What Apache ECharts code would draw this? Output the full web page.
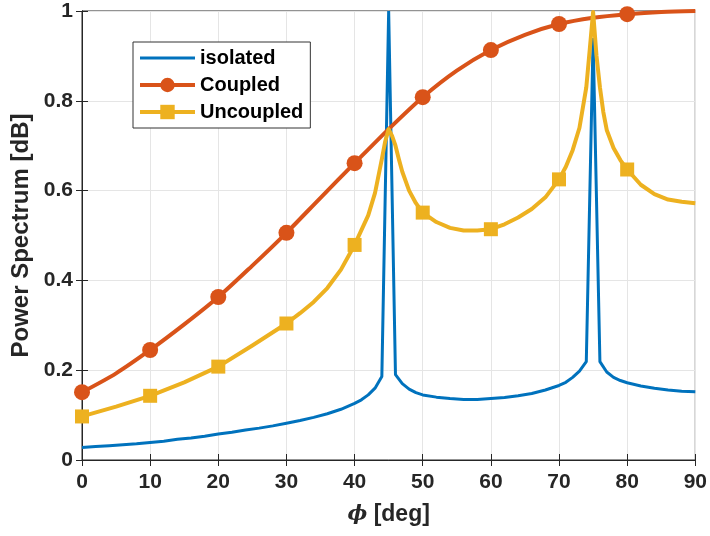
<!DOCTYPE html>
<html>
<head>
<meta charset="utf-8">
<script src="https://cdn.jsdelivr.net/npm/echarts@6/dist/echarts.min.js"></script>
<style>
html,body{margin:0;padding:0;background:#fff;}
#chart{width:710px;height:536px;}
</style>
</head>
<body>
<div id="chart"></div>
<script>
// ---- data ----
var xTicks = [0, 10, 20, 30, 40, 50, 60, 70, 80, 90];
var yTicks = [0, 0.2, 0.4, 0.6, 0.8, 1];
var markerX = [0, 10, 20, 30, 40, 50, 60, 70, 80];

var isolatedX = [0, 2, 4, 6, 8, 10, 12, 14, 16, 18, 20, 22, 24, 26, 28, 30, 32, 34, 36, 38, 40, 41, 42, 43, 44, 45, 46, 47, 48, 49, 50, 52, 54, 56, 58, 60, 62, 64, 66, 68, 70, 71, 72, 73, 74, 75, 76, 77, 78, 79, 80, 82, 84, 86, 88, 90];
var isolatedY = [0.028, 0.030, 0.032, 0.034, 0.036, 0.039, 0.042, 0.046, 0.049, 0.053, 0.058, 0.062, 0.067, 0.071, 0.076, 0.082, 0.088, 0.095, 0.103, 0.113, 0.126, 0.134, 0.145, 0.160, 0.186, 1.0, 0.190, 0.170, 0.158, 0.150, 0.145, 0.140, 0.137, 0.135, 0.135, 0.137, 0.139, 0.143, 0.148, 0.156, 0.166, 0.173, 0.184, 0.198, 0.219, 0.94, 0.219, 0.196, 0.184, 0.177, 0.172, 0.165, 0.160, 0.156, 0.153, 0.152];

var coupledX = [0, 5, 10, 15, 20, 25, 30, 35, 40, 45, 50, 55, 60, 65, 70, 75, 80, 85, 90];
var coupledY = [0.151, 0.193, 0.245, 0.302, 0.363, 0.433, 0.506, 0.584, 0.661, 0.737, 0.808, 0.867, 0.913, 0.947, 0.971, 0.985, 0.993, 0.998, 1.0];

var uncoupledX = [0, 5, 10, 15, 20, 25, 30, 32, 34, 36, 38, 40, 41, 42, 43, 44, 44.5, 45, 45.5, 46, 46.5, 47, 48, 49, 50, 52, 54, 56, 58, 60, 62, 64, 66, 68, 70, 71, 72, 73, 74, 74.5, 75, 75.5, 76, 76.5, 77, 78, 79, 80, 82, 84, 86, 88, 90];
var uncoupledY = [0.097, 0.119, 0.143, 0.173, 0.208, 0.255, 0.304, 0.327, 0.352, 0.383, 0.424, 0.479, 0.512, 0.545, 0.595, 0.670, 0.710, 0.737, 0.722, 0.700, 0.670, 0.642, 0.600, 0.572, 0.551, 0.530, 0.517, 0.511, 0.511, 0.514, 0.525, 0.540, 0.559, 0.585, 0.625, 0.653, 0.690, 0.740, 0.830, 0.913, 0.998, 0.900, 0.830, 0.775, 0.735, 0.695, 0.668, 0.647, 0.613, 0.592, 0.580, 0.575, 0.572];

function items(xs, ys) {
  return xs.map(function (x, i) {
    var it = {value: [x, ys[i]]};
    if (markerX.indexOf(x) < 0) it.symbol = 'none';
    return it;
  });
}

var FONT = '"Liberation Sans", Arial, Helvetica, sans-serif';
var TXT = '#262626';
var GRIDC = '#e5e5e5';

var chart = echarts.init(document.getElementById('chart'), null, {renderer: 'canvas'});
var option = {
  animation: false,
  backgroundColor: '#ffffff',
  textStyle: {fontFamily: FONT},
  grid: {left: 82, right: 14, top: 11, bottom: 76, show: true, borderColor: TXT, borderWidth: 1, backgroundColor: 'transparent'},
  legend: {
    left: 133, top: 42,
    orient: 'vertical',
    itemWidth: 55, itemHeight: 18,
    itemGap: 7,
    padding: [6, 7, 6, 5],
    borderColor: '#333333', borderWidth: 1, borderRadius: 0,
    backgroundColor: '#ffffff',
    symbolKeepAspect: true,
    textStyle: {fontFamily: FONT, fontWeight: 'bold', fontSize: 20, color: '#000'},
    data: [
      {name: 'isolated', icon: 'path://M0,0 L55,0 L55,3 L0,3 Z', itemStyle: {color: '#0072BD'}},
      {name: 'Coupled', lineStyle: {width: 4}},
      {name: 'Uncoupled', lineStyle: {width: 4}}
    ]
  },
  xAxis: [{
    type: 'value', min: 0, max: 90, interval: 10,
    name: '{i|ϕ} [deg]', nameLocation: 'middle', nameGap: 43,
    nameTextStyle: {fontFamily: FONT, fontWeight: 'bold', fontSize: 23, color: TXT,
      rich: {i: {fontFamily: '"DejaVu Serif", serif', fontStyle: 'italic', fontSize: 21, color: TXT}}},
    axisLine: {show: true, lineStyle: {color: TXT, width: 1}},
    axisTick: {show: true, inside: true, length: 6, lineStyle: {color: TXT}},
    axisLabel: {fontFamily: FONT, fontWeight: 'bold', fontSize: 21, color: TXT, margin: 12},
    splitLine: {show: true, lineStyle: {color: GRIDC, width: 1}}
  }, {
    type: 'value', min: 0, max: 90, interval: 10, position: 'top',
    axisLine: {show: true, lineStyle: {color: TXT, width: 1}},
    axisTick: {show: true, inside: true, length: 6, lineStyle: {color: TXT}},
    axisLabel: {show: false}, splitLine: {show: false}
  }],
  yAxis: [{
    type: 'value', min: 0, max: 1, interval: 0.2,
    name: 'Power Spectrum [dB]', nameLocation: 'middle', nameGap: 45,
    nameTextStyle: {fontFamily: FONT, fontWeight: 'bold', fontSize: 24, color: TXT},
    axisLine: {show: true, lineStyle: {color: TXT, width: 1}},
    axisTick: {show: true, inside: true, length: 6, lineStyle: {color: TXT}},
    axisLabel: {fontFamily: FONT, fontWeight: 'bold', fontSize: 21, color: TXT, margin: 9},
    splitLine: {show: true, lineStyle: {color: GRIDC, width: 1}}
  }, {
    type: 'value', min: 0, max: 1, interval: 0.2, position: 'right',
    axisLine: {show: true, lineStyle: {color: TXT, width: 1}},
    axisTick: {show: true, inside: true, length: 6, lineStyle: {color: TXT}},
    axisLabel: {show: false}, splitLine: {show: false}
  }],
  series: [{
    name: 'isolated', type: 'line',
    data: isolatedX.map(function (x, i) { return [x, isolatedY[i]]; }),
    symbol: 'none',
    lineStyle: {color: '#0072BD', width: 3},
    itemStyle: {color: '#0072BD'},
    z: 2
  }, {
    name: 'Coupled', type: 'line', smooth: 0.3,
    data: items(coupledX, coupledY),
    symbol: 'circle', symbolSize: 16,
    lineStyle: {color: '#D95319', width: 4},
    itemStyle: {color: '#D95319'},
    z: 3
  }, {
    name: 'Uncoupled', type: 'line',
    data: items(uncoupledX, uncoupledY),
    symbol: 'rect', symbolSize: 14,
    lineStyle: {color: '#EDB120', width: 4, join: 'round'},
    itemStyle: {color: '#EDB120'},
    z: 4
  }]
};
chart.setOption(option);
</script>
</body>
</html>
